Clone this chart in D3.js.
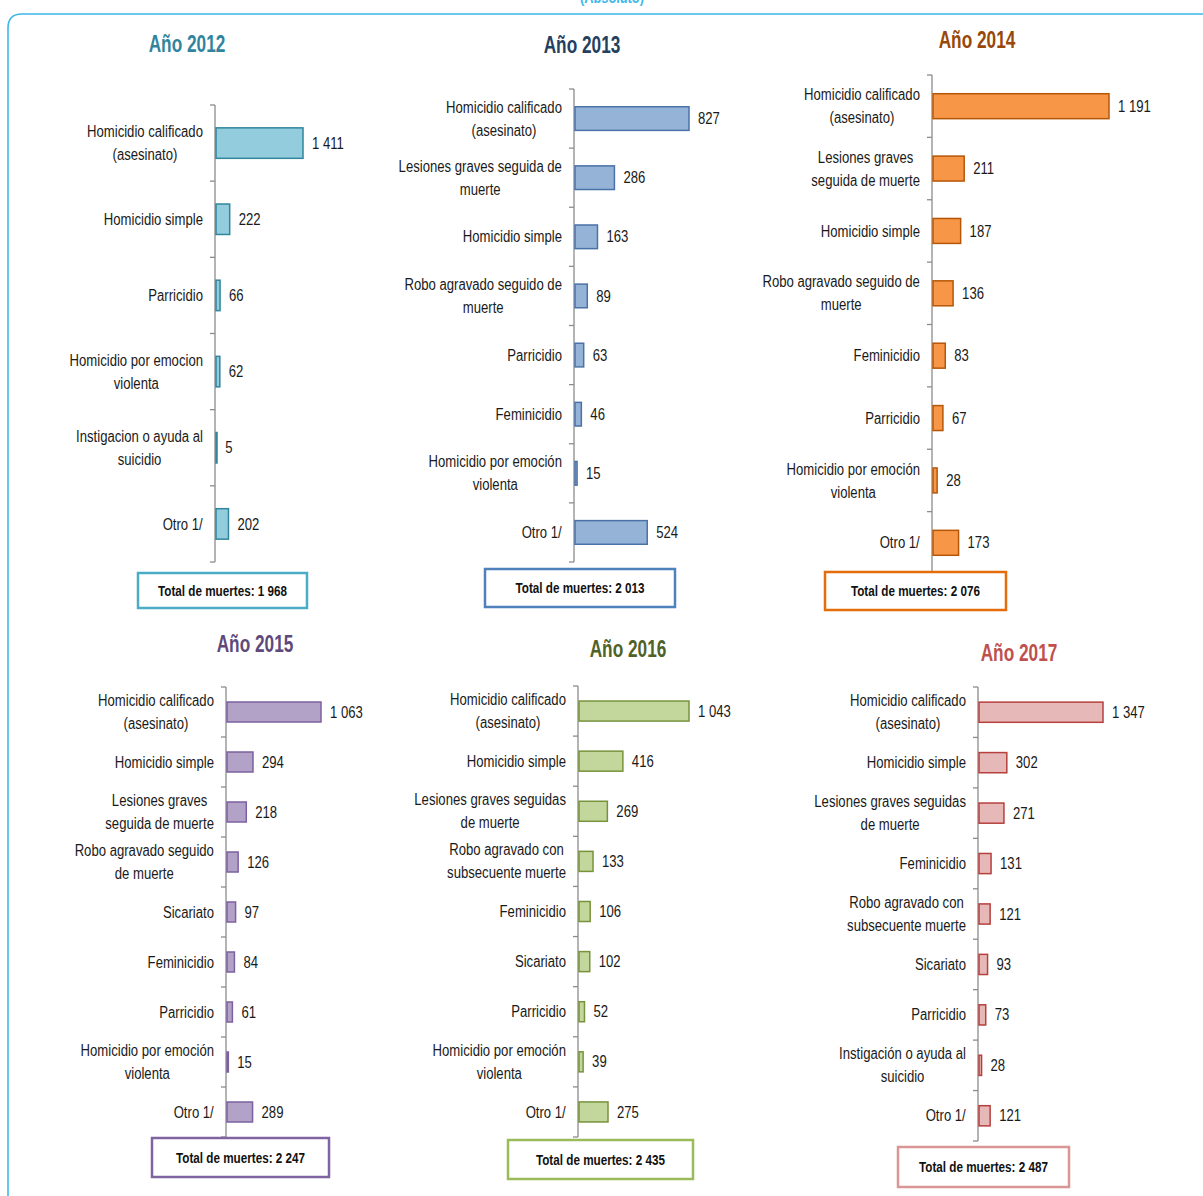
<!DOCTYPE html>
<html>
<head>
<meta charset="utf-8">
<script src="https://cdn.jsdelivr.net/npm/d3@7"></script>
<style>
  body { margin: 0; background: #fff; }
  svg { font-family: "Liberation Sans Narrow", "Liberation Sans", Arial, sans-serif; }
  .cat { font-size: 16px; fill: #1a1a1a; }
  .val { font-size: 16px; fill: #1a1a1a; }
  .title { font-size: 23px; font-weight: bold; }
  .total { font-size: 15px; font-weight: bold; fill: #111; }
</style>
</head>
<body>
<svg id="chart" width="1203" height="1196"></svg>
<script>
// Data, one set of arrays per year
const cats2012 = ['Homicidio calificado\n(asesinato)', 'Homicidio simple', 'Parricidio',
  'Homicidio por emocion\nviolenta', 'Instigacion o ayuda al\nsuicidio', 'Otro 1/'];
const vals2012 = [1411, 222, 66, 62, 5, 202];

const cats2013 = ['Homicidio calificado\n(asesinato)', 'Lesiones graves seguida de\nmuerte', 'Homicidio simple',
  'Robo agravado seguido de\nmuerte', 'Parricidio', 'Feminicidio', 'Homicidio por emoción\nviolenta', 'Otro 1/'];
const vals2013 = [827, 286, 163, 89, 63, 46, 15, 524];

const cats2014 = ['Homicidio calificado\n(asesinato)', 'Lesiones graves\nseguida de muerte', 'Homicidio simple',
  'Robo agravado seguido de\nmuerte', 'Feminicidio', 'Parricidio', 'Homicidio por emoción\nviolenta', 'Otro 1/'];
const vals2014 = [1191, 211, 187, 136, 83, 67, 28, 173];

const cats2015 = ['Homicidio calificado\n(asesinato)', 'Homicidio simple', 'Lesiones graves\nseguida de muerte',
  'Robo agravado seguido\nde muerte', 'Sicariato', 'Feminicidio', 'Parricidio', 'Homicidio por emoción\nviolenta', 'Otro 1/'];
const vals2015 = [1063, 294, 218, 126, 97, 84, 61, 15, 289];

const cats2016 = ['Homicidio calificado\n(asesinato)', 'Homicidio simple', 'Lesiones graves seguidas\nde muerte',
  'Robo agravado con\nsubsecuente muerte', 'Feminicidio', 'Sicariato', 'Parricidio', 'Homicidio por emoción\nviolenta', 'Otro 1/'];
const vals2016 = [1043, 416, 269, 133, 106, 102, 52, 39, 275];

const cats2017 = ['Homicidio calificado\n(asesinato)', 'Homicidio simple', 'Lesiones graves seguidas\nde muerte',
  'Feminicidio', 'Robo agravado con\nsubsecuente muerte', 'Sicariato', 'Parricidio', 'Instigación o ayuda al\nsuicidio', 'Otro 1/'];
const vals2017 = [1347, 302, 271, 131, 121, 93, 73, 28, 121];

const years = ['Año 2012', 'Año 2013', 'Año 2014', 'Año 2015', 'Año 2016', 'Año 2017'];
const totals = ['Total de muertes: 1 968', 'Total de muertes: 2 013', 'Total de muertes: 2 076',
  'Total de muertes: 2 247', 'Total de muertes: 2 435', 'Total de muertes: 2 487'];

const fmt = v => d3.format(',')(v).replace(/,/g, ' ');

// narrow look: squeeze text horizontally around its anchor x
function squeeze(sel, sx) {
  sel.each(function () {
    const x = +this.getAttribute('x') || 0;
    this.setAttribute('transform', `matrix(${sx},0,0,1,${x * (1 - sx)},0)`);
  });
}

// layout per panel
const panels = [
  { cats: cats2012, vals: vals2012, ax: 215, top: 105, bottom: 562, maxPx: 87,
    tx: 187, ty: 52, title: '#31849B', fill: '#93CDDD', stroke: '#31859C', border: '#4BACC6',
    box: [138, 573, 169, 35] },
  { cats: cats2013, vals: vals2013, ax: 574, top: 89, bottom: 562, maxPx: 114,
    tx: 582, ty: 53, title: '#243F60', fill: '#95B3D7', stroke: '#4A72A8', border: '#4F81BD',
    box: [485, 569, 190, 38] },
  { cats: cats2014, vals: vals2014, ax: 932, top: 75, bottom: 574, maxPx: 176,
    tx: 977, ty: 48, title: '#984807', fill: '#F79646', stroke: '#B65708', border: '#E46C0A',
    box: [825, 572, 181, 38] },
  { cats: cats2015, vals: vals2015, ax: 226, top: 687, bottom: 1137, maxPx: 94,
    tx: 255, ty: 652, title: '#5F497A', fill: '#B3A2C7', stroke: '#7D60A0', border: '#8064A2',
    box: [152, 1138, 177, 39] },
  { cats: cats2016, vals: vals2016, ax: 578, top: 686, bottom: 1137, maxPx: 110,
    tx: 628, ty: 657, title: '#4F6228', fill: '#C3D69B', stroke: '#77933C', border: '#9BBB59',
    box: [508, 1140, 185, 39] },
  { cats: cats2017, vals: vals2017, ax: 978, top: 687, bottom: 1141, maxPx: 124,
    tx: 1019, ty: 661, title: '#C0504D', fill: '#E6B9B8', stroke: '#B5403D', border: '#D99694',
    box: [898, 1147, 171, 40] }
];

const svg = d3.select('#chart');

// outer frame and cut-off heading
svg.append('path')
  .attr('d', 'M8,1200 L8,28 Q8,14 22,14 L1210,14')
  .attr('fill', 'none')
  .attr('stroke', '#3DB8E8')
  .attr('stroke-width', 1.6);

svg.append('text')
  .attr('x', 612)
  .attr('y', 3)
  .attr('text-anchor', 'middle')
  .attr('fill', '#3DB8E8')
  .style('font-size', '16px')
  .style('font-weight', 'bold')
  .text('(Absoluto)')
  .call(squeeze, 0.8);

panels.forEach((p, i) => {
  const g = svg.append('g');

  const yScale = d3.scaleBand()
    .domain(p.cats)
    .range([p.top, p.bottom])
    .paddingInner(0.6)
    .paddingOuter(0.3);

  const xScale = d3.scaleLinear()
    .domain([0, d3.max(p.vals)])
    .range([p.ax, p.ax + p.maxPx]);

  // axis line with ticks at band boundaries
  g.append('line')
    .attr('x1', p.ax).attr('x2', p.ax)
    .attr('y1', p.top).attr('y2', p.bottom)
    .attr('stroke', '#8c8c8c')
    .attr('stroke-width', 1.3);

  const bounds = d3.range(p.cats.length + 1).map(k => p.top + k * yScale.step());
  g.selectAll('.tick')
    .data(bounds)
    .join('line')
    .attr('x1', p.ax - 5).attr('x2', p.ax)
    .attr('y1', d => d).attr('y2', d => d)
    .attr('stroke', '#8c8c8c')
    .attr('stroke-width', 1.3);

  // bars
  g.selectAll('rect.bar')
    .data(p.vals)
    .join('rect')
    .attr('class', 'bar')
    .attr('x', xScale(0) + 1)
    .attr('y', (d, k) => yScale(p.cats[k]))
    .attr('width', d => Math.max(xScale(d) - xScale(0), 1))
    .attr('height', yScale.bandwidth())
    .attr('fill', p.fill)
    .attr('stroke', p.stroke)
    .attr('stroke-width', 1.5);

  // value labels
  g.selectAll('text.val')
    .data(p.vals)
    .join('text')
    .attr('class', 'val')
    .attr('x', d => xScale(d) + 10)
    .attr('y', (d, k) => yScale(p.cats[k]) + yScale.bandwidth() / 2)
    .attr('dy', '0.35em')
    .text(d => fmt(d))
    .call(squeeze, 0.82);

  // category labels (may be two lines)
  const sx = 0.82;
  p.cats.forEach(c => {
    const lines = c.split('\n');
    const cy = yScale(c) + yScale.bandwidth() / 2;
    const t = g.append('text')
      .attr('class', 'cat')
      .attr('text-anchor', 'middle');
    const w = lines.length;
    lines.forEach((ln, j) => {
      t.append('tspan')
        .attr('x', 0)
        .attr('y', cy + (j - (w - 1) / 2) * 23)
        .attr('dy', '0.35em')
        .text(ln);
    });
    const bw = t.node().getBBox().width * sx;
    const cx = p.ax - 12 - bw / 2;
    t.attr('x', cx);
    t.selectAll('tspan').attr('x', cx);
    squeeze(t, sx);
  });

  // title
  g.append('text')
    .attr('class', 'title')
    .attr('x', p.tx)
    .attr('y', p.ty)
    .attr('text-anchor', 'middle')
    .attr('fill', p.title)
    .text(years[i])
    .call(squeeze, 0.75);

  // total box
  const [bx, by, bw, bh] = p.box;
  g.append('rect')
    .attr('x', bx).attr('y', by)
    .attr('width', bw).attr('height', bh)
    .attr('fill', '#fff')
    .attr('stroke', p.border)
    .attr('stroke-width', 2.5);

  g.append('text')
    .attr('class', 'total')
    .attr('x', bx + bw / 2)
    .attr('y', by + bh / 2)
    .attr('dy', '0.35em')
    .attr('text-anchor', 'middle')
    .text(totals[i])
    .call(squeeze, 0.78);
});
</script>
</body>
</html>
